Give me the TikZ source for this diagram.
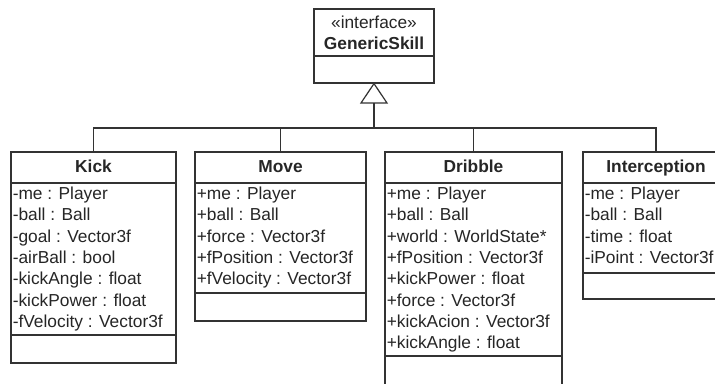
\documentclass[tikz,border=0pt]{standalone}
\usepackage{fontspec}
\setmainfont{Liberation Sans}
\begin{document}
\begin{tikzpicture}[x=0.75pt,y=-0.75pt,
  line/.style={draw=black!80,line width=0.9pt},
  classbox/.style={line,rectangle,inner sep=0pt,fill=white},
  title/.style={font=\fontsize{13pt}{15pt}\selectfont\bfseries,text=black!85,inner sep=0pt,anchor=base},
  stereo/.style={font=\fontsize{13pt}{15pt}\selectfont,text=black!85,inner sep=0pt,anchor=base},
  attr/.style={font=\fontsize{13pt}{15pt}\selectfont,text=black!85,inner sep=0pt,anchor=base west}]
\useasboundingbox (0,0) rectangle (715,383);
\clip (0,0) rectangle (715,383);
\fill[white] (0,0) rectangle (715,383);

% interface
\node[classbox,minimum width=90pt,minimum height=55.5pt] (gs) at (374,46) {};
\node[stereo] (gsst) at (374,28) {«interface»};
\node[title] (gsname) at (374,49.5) {GenericSkill};
\draw[line] (gs.west |- 0,56) -- (gs.east |- 0,56);

% Kick
\node[classbox,minimum width=123.75pt,minimum height=158.25pt] (kick) at (93.5,257.5) {};
\node[title] (kickname) at (93.5,172) {Kick};
\draw[line] (kick.west |- 0,183) -- (kick.east |- 0,183);
\draw[line] (kick.west |- 0,335) -- (kick.east |- 0,335);
\foreach \t [count=\i from 0] in {-me : Player,-ball : Ball,-goal : Vector3f,-airBall : bool,-kickAngle : float,-kickPower : float,-fVelocity : Vector3f}
  \node[attr] (ka\i) at (12.5,199.5+21.3*\i) {\t};

% Move
\node[classbox,minimum width=128.25pt,minimum height=126.75pt] (move) at (280.5,236.5) {};
\node[title] (movename) at (280.5,172) {Move};
\draw[line] (move.west |- 0,183) -- (move.east |- 0,183);
\draw[line] (move.west |- 0,293) -- (move.east |- 0,293);
\foreach \t [count=\i from 0] in {+me : Player,+ball : Ball,+force : Vector3f,+fPosition : Vector3f,+fVelocity : Vector3f}
  \node[attr] (ma\i) at (196.5,199.5+21.3*\i) {\t};

% Dribble
\node[classbox,minimum width=132.75pt,minimum height=174.75pt] (dribble) at (473.5,268.5) {};
\node[title] (dribblename) at (473.5,172) {Dribble};
\draw[line] (dribble.west |- 0,183) -- (dribble.east |- 0,183);
\draw[line] (dribble.west |- 0,356) -- (dribble.east |- 0,356);
\foreach \t [count=\i from 0] in {+me : Player,+ball : Ball,+world : WorldState*,+fPosition : Vector3f,+kickPower : float,+force : Vector3f,+kickAcion : Vector3f,+kickAngle : float}
  \node[attr] (da\i) at (386.5,199.5+21.3*\i) {\t};

% Interception
\node[classbox,minimum width=109.5pt,minimum height=110.25pt] (inter) at (656,225.5) {};
\node[title] (intername) at (656,172) {Interception};
\draw[line] (inter.west |- 0,183) -- (inter.east |- 0,183);
\draw[line] (inter.west |- 0,273) -- (inter.east |- 0,273);
\foreach \t [count=\i from 0] in {-me : Player,-ball : Ball,-time : float,-iPoint : Vector3f}
  \node[attr] (ia\i) at (584.5,199.5+21.3*\i) {\t};

% generalization
\coordinate (tribase) at (374,103);
\coordinate (junction) at (374,128);
\draw[line,fill=white] (gs.south) -- (tribase -| 361,0) -- (tribase -| 387,0) -- cycle;
\draw[line] (tribase) -- (junction);
\draw[line] (kick.north) |- (junction);
\draw[line] (move.north) |- (junction);
\draw[line] (dribble.north) |- (junction);
\draw[line] (inter.north) |- (junction);
\end{tikzpicture}
\end{document}
